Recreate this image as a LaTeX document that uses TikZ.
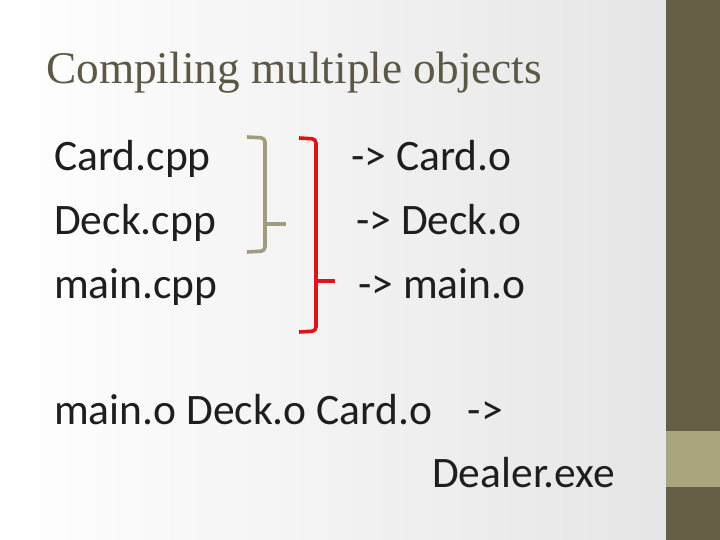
\documentclass[tikz,border=0pt]{standalone}
\usepackage{fontspec}
\setmainfont{Carlito}
\newfontfamily\titlefont{Liberation Serif}
\usepackage{xcolor}
\usetikzlibrary{positioning,calc}
\definecolor{barDark}{HTML}{655E45}
\definecolor{barLight}{HTML}{A8A57F}
\definecolor{ttlGray}{HTML}{5D5846}
\definecolor{braceOlive}{HTML}{A09C7C}
\definecolor{braceRed}{HTML}{DD1418}
\definecolor{txt}{HTML}{1E1E1E}

\begin{document}
\begin{tikzpicture}[x=1pt,y=-1pt,
  ttl/.style={anchor=base west,inner sep=0pt,text=ttlGray,font=\titlefont\fontsize{45.3}{50}\selectfont},
  lb/.style={anchor=base west,inner sep=0pt,text=txt,font=\fontsize{43.5}{50}\selectfont},
  br/.style={line width=3.6pt,rounded corners=4pt},
  tk/.style={line width=3.2pt}
]
\useasboundingbox (0,0) rectangle (720,540);
% ---- background and side bar ----
\shade[left color=white,right color=black!10] (0,0) rectangle (666,540);
\fill[barDark] (666,0) rectangle (720,540);
\fill[barLight] (666,431) rectangle (720,487);
% ---- title ----
\node[ttl] (title) at (46,84) {Compiling multiple objects};
% ---- sources ----
\node[lb] (card) at (54,171) {Card.cpp};
\node[lb] (deck) at (54,234) {Deck.cpp};
\node[lb] (main) at (54,298) {main.cpp};
% ---- objects ----
\node[lb] (cardo) at (351,171) {-> Card.o};
\node[lb] (decko) at (356,234) {-> Deck.o};
\node[lb] (maino) at (358,298) {-> main.o};
% ---- link line ----
\node[lb] (link) at (54,424) {main.o Deck.o Card.o\hspace{0.6em} ->};
\node[lb] (exe) at (432,487) {Dealer.exe};
% olive brace (Card.cpp + Deck.cpp)
\draw[br,braceOlive] (247,137) -- (265,138) -- (265,251) -- (247,252);
\draw[tk,braceOlive] (265,224) -- (286,224);
% red brace (all three)
\draw[br,braceRed] (299,138) -- (316,139) -- (316,331) -- (299,332);
\draw[tk,braceRed] (316,281) -- (335,281);
\end{tikzpicture}
\end{document}
